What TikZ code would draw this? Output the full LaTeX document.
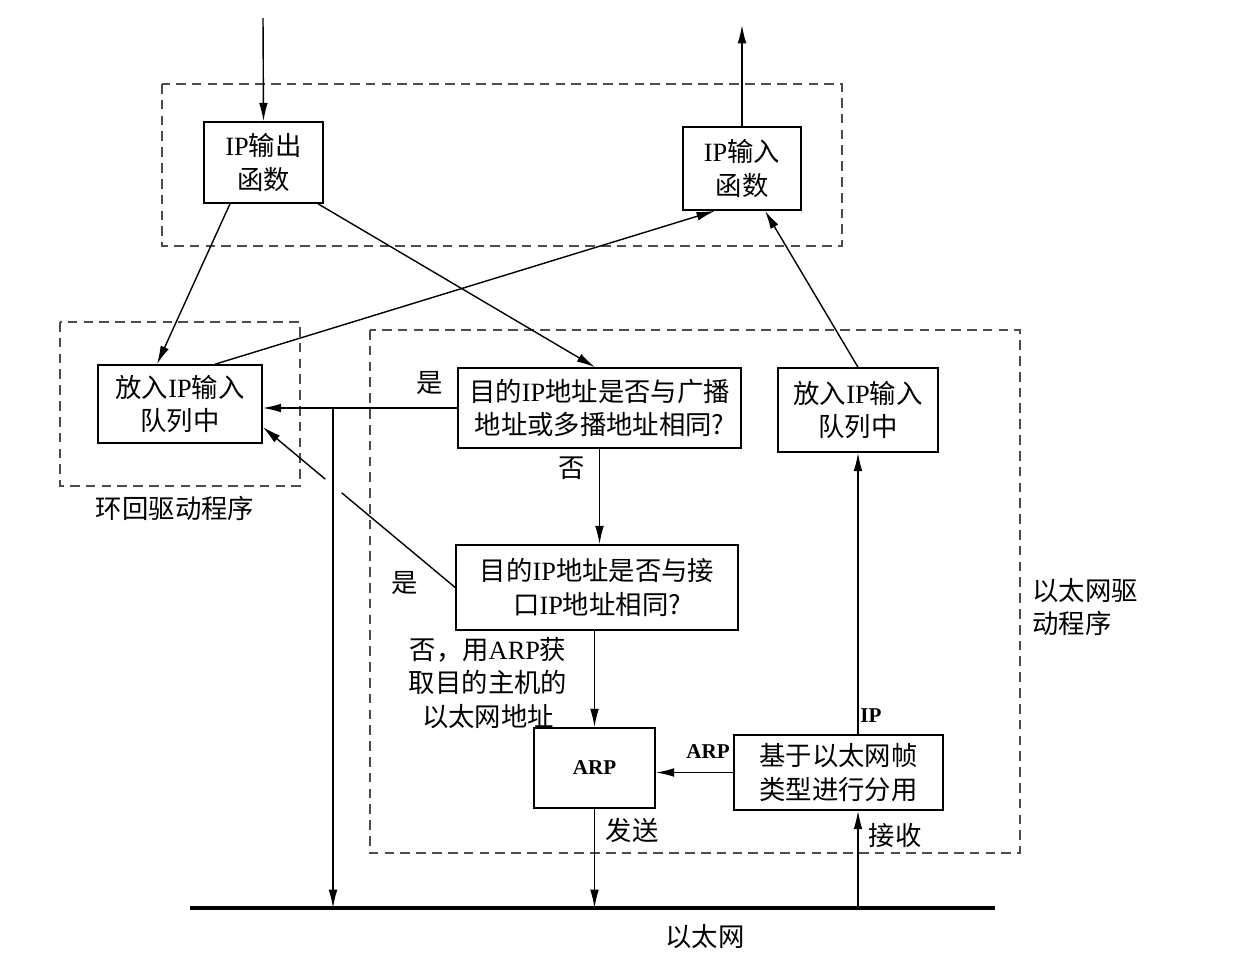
\documentclass[tikz,border=0pt]{standalone}
\usepackage{fontspec}
\setmainfont{Liberation Serif}
\newfontfamily\cjk{Noto Sans CJK SC}
\usetikzlibrary{arrows.meta,calc}
\newcommand\ipl[1]{{\rmfamily #1}}

\begin{document}
\begin{tikzpicture}[x=0.02cm,y=-0.02cm,
  box/.style={draw,line width=0.9pt,align=center,inner sep=0pt,font=\cjk\fontsize{15}{19}\selectfont},
  lab/.style={align=center,font=\cjk\fontsize{15}{19}\selectfont},
  tag/.style={font=\bfseries\fontsize{12}{14}\selectfont},
  arr/.style={line width=0.8pt,-{Latex[length=10.5pt,width=5pt]}},
  grp/.style={draw=black!70,line width=1.1pt,dash pattern=on 5.5pt off 3.5pt}]
\useasboundingbox (0,0) rectangle (1250,974);
% dashed groups
\foreach \a/\b/\c/\d in {162/84/842/246, 60/322/300/486, 370/330/1020/853}{
  \draw[grp] (\a,\b) rectangle (\c,\d);
}
\node[lab] (lbname) at (175,508) {环回驱动程序};
\node[lab,align=left] (ethname) at (1085,607) {以太网驱\\动程序};
% boxes
\node[box,minimum width=2.38cm,minimum height=1.62cm] (ipout) at (263.5,162.5) {\ipl{IP}输出\\函数};
\node[box,minimum width=2.36cm,minimum height=1.66cm] (ipin) at (742,168.5) {\ipl{IP}输入\\函数};
\node[box,minimum width=3.28cm,minimum height=1.56cm] (lbq) at (180,404) {放入\ipl{IP}输入\\队列中};
\node[box,minimum width=5.66cm,minimum height=1.6cm] (bcast) at (599.5,408) {目的\ipl{IP}地址是否与广播\\地址或多播地址相同?};
\node[box,minimum width=3.2cm,minimum height=1.68cm] (ethq) at (858,410) {放入\ipl{IP}输入\\队列中};
\node[box,minimum width=5.64cm,minimum height=1.7cm] (ifq) at (597,587.5) {目的\ipl{IP}地址是否与接\\口\ipl{IP}地址相同?};
\node[box,minimum width=2.42cm,minimum height=1.6cm,font=\bfseries\fontsize{12}{14}\selectfont] (arp) at (594.5,768) {ARP};
\node[box,minimum width=4.18cm,minimum height=1.5cm] (demux) at (838.5,772.5) {基于以太网帧\\类型进行分用};
% ethernet
\coordinate (eth-l) at (190,908);
\coordinate (eth-r) at (995,908);
\draw[line width=2.4pt] (eth-l) -- (eth-r);
\node[lab] (ethlab) at (705,937) {以太网};
% connectors
\coordinate (top-in) at (263,18);
\coordinate (top-out) at (742,25);
\draw[arr] (top-in) -- (ipout.north);
\draw[arr] (ipin.north) -- (top-out);
\draw[arr] ([xshift=-0.67cm]ipout.south) -- ([xshift=-0.46cm]lbq.north);
\draw[arr] ([xshift=1.09cm]ipout.south) -- ([xshift=-0.09cm]bcast.north);
\draw[arr] ([xshift=0.7cm]lbq.north) -- ([xshift=-0.54cm]ipin.south);
\draw[arr] (bcast.west) -- (bcast.west -| lbq.east);
\node[lab] (yes1) at (430,383) {是};
\coordinate (jn) at (333,408);
\draw[arr] (jn) -- (jn |- eth-l);
\draw[arr] (bcast.south) -- (bcast.south |- ifq.north);
\node[lab] (no1) at (572,468) {否};
\coordinate (yes2) at ([yshift=-0.46cm]lbq.east);
\draw[line width=0.8pt] (ifq.west) -- ($(ifq.west)!0.59!(yes2)$);
\draw[arr] ($(ifq.west)!0.675!(yes2)$) -- (yes2);
\node[lab] (yes2lab) at (405,583) {是};
\draw[arr] (arp.north |- ifq.south) -- (arp.north);
\node[lab] (no2) at (488,683) {否，用\ipl{ARP}获\\取目的主机的\\以太网地址};
\draw[arr] (demux.west) -- (demux.west -| arp.east);
\node[tag] (arptag) at (708,752) {ARP};
\draw[arr] (ethq.south |- demux.north) -- (ethq.south);
\node[tag] (iptag) at (871,716) {IP};
\draw[arr] (ethq.north) -- ([xshift=0.46cm]ipin.south);
\draw[arr] (arp.south) -- (arp.south |- eth-l);
\node[lab] (send) at (632,830) {发送};
\draw[arr] (ethq.south |- eth-l) -- (ethq.south |- demux.south);
\node[lab] (recv) at (895,835) {接收};
\end{tikzpicture}
\end{document}
